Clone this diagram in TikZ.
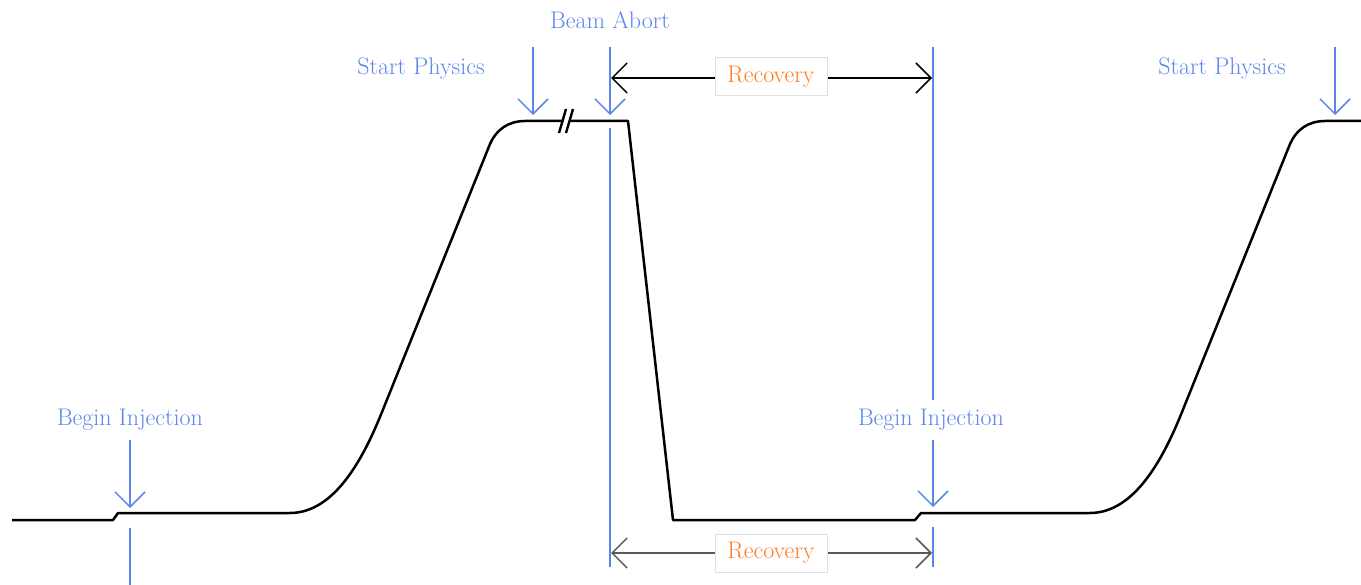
\documentclass[tikz,border=0pt]{standalone}
\usetikzlibrary{arrows.meta,calc}
\definecolor{bl}{RGB}{92,132,235}
\definecolor{orng}{RGB}{255,122,32}
\begin{document}
\begin{tikzpicture}[x=1pt,y=-1pt,
  lab/.style={text=bl,font=\fontsize{24}{28}\selectfont,inner sep=0pt},
  bline/.style={draw=bl,line width=1.5pt},
  barrow/.style={bline,-{Straight Barb[length=15pt,width=30pt,line width=1.5pt]}},
  curve/.style={line width=2.5pt,line join=round},
  rec/.style={draw=black!12,line width=1pt,fill=white,text=orng,font=\fontsize{24}{28}\selectfont,minimum width=112pt,minimum height=38pt,inner sep=0pt},
  recarrow/.style={line width=1.5pt,{Straight Barb[length=15pt,width=30pt,line width=1.5pt]}-{Straight Barb[length=15pt,width=30pt,line width=1.5pt]}}
]
\useasboundingbox (0,0) rectangle (1361,585);

% main curve
\draw[curve] (12,520) -- (113,520) -- (118,513) -- (290,513)
  .. controls (335,513) and (364,457) .. (382,412) -- (490,144)
  .. controls (496,130) and (508,121) .. (525,121) -- (628,121) -- (673,520)
  -- (915,520) -- (921,513) -- (1090,513)
  .. controls (1135,513) and (1164,457) .. (1182,412) -- (1290,144)
  .. controls (1296,130) and (1308,121) .. (1325,121) -- (1361,121);

% break mark
\fill[white] (561,131) -- (567,111) -- (572,111) -- (566,131) -- cycle;
\draw[line width=2.4pt] (559,133) -- (566,109);
\draw[line width=2.4pt] (566,133) -- (573,109);

% labels
\node[lab] (bi1) at (130,420) {Begin Injection};
\node[lab] (sp1) at (421,69) {Start Physics};
\node[lab] (ba) at (610,20) {Beam Abort};
\node[lab] (bi2) at (931,420) {Begin Injection};
\node[lab] (sp2) at (1222,69) {Start Physics};

% coordinates
\coordinate (bi1s) at (130,440);
\coordinate (bi1t) at (130,508);
\coordinate (bi1a) at (130,528);
\coordinate (bi1b) at (130,585);
\coordinate (sp1s) at (533,47);
\coordinate (sp1t) at (533,115);
\coordinate (bas) at (610,47);
\coordinate (bat) at (610,115);
\coordinate (baa) at (610,128);
\coordinate (bab) at (610,567);
\coordinate (r1) at (933,47);
\coordinate (r2) at (933,400);
\coordinate (bi2s) at (933,440);
\coordinate (bi2t) at (933,507);
\coordinate (bi2a) at (933,527);
\coordinate (bi2b) at (933,567);
\coordinate (sp2s) at (1335,47);
\coordinate (sp2t) at (1335,115);

% blue markers
\draw[barrow] (bi1s) -- (bi1t);
\draw[bline] (bi1a) -- (bi1b);
\draw[barrow] (sp1s) -- (sp1t);
\draw[barrow] (bas) -- (bat);
\draw[bline] (baa) -- (bab);
\draw[bline] (r1) -- (r2);
\draw[barrow] (bi2s) -- (bi2t);
\draw[bline] (bi2a) -- (bi2b);
\draw[barrow] (sp2s) -- (sp2t);

% recovery arrows
\coordinate (ra1) at (611,78);
\coordinate (ra2) at (932,78);
\coordinate (rb1) at (611,553);
\coordinate (rb2) at (932,553);
\draw[recarrow] (ra1) -- (ra2);
\draw[recarrow,draw=black!65] (rb1) -- (rb2);
\node[rec] (rt) at (771,77) {Recovery};
\node[rec] (rb) at (771,553) {Recovery};
\end{tikzpicture}
\end{document}
